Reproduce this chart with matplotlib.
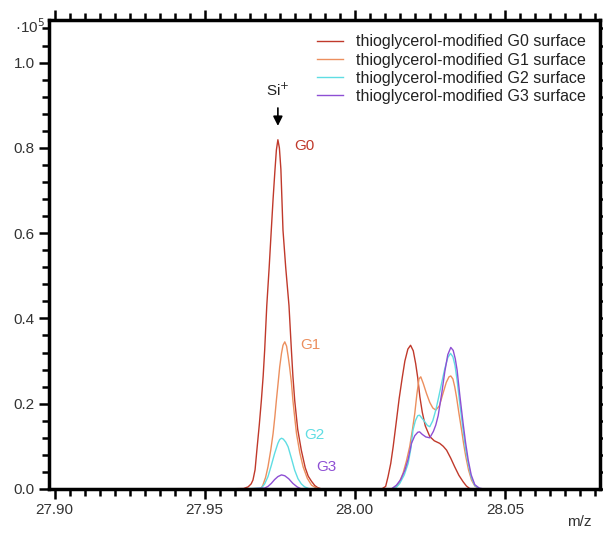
import matplotlib
matplotlib.use('Agg')
import matplotlib.pyplot as plt
from matplotlib.ticker import MultipleLocator

plt.rcParams['font.family'] = ['Liberation Sans', 'DejaVu Sans']

# m/z and intensity (x10^5)
mz_g0 = [27.9550, 27.9630, 27.9645, 27.9655, 27.9661, 27.9668, 27.9674, 27.9682, 27.9689, 27.9695,
         27.9700, 27.9707, 27.9715, 27.9722, 27.9728, 27.9734, 27.9739, 27.9744, 27.9749, 27.9754,
         27.9761, 27.9770, 27.9781, 27.9789, 27.9794, 27.9800, 27.9810, 27.9822, 27.9835, 27.9845,
         27.9856, 27.9867, 27.9877, 27.9890,
         28.0090, 28.0103, 28.0111, 28.0120, 28.0128, 28.0138, 28.0148, 28.0158, 28.0167, 28.0177,
         28.0186, 28.0195, 28.0203, 28.0210, 28.0217, 28.0225, 28.0235, 28.0250, 28.0265, 28.0283,
         28.0295, 28.0306, 28.0320, 28.0333, 28.0347, 28.0361, 28.0372, 28.0383, 28.0400, 28.0500]
int_g0 = [0.0, 0.001, 0.005, 0.012, 0.021, 0.045, 0.091, 0.150, 0.208, 0.265,
          0.326, 0.430, 0.520, 0.607, 0.680, 0.745, 0.795, 0.819, 0.800, 0.750,
          0.607, 0.520, 0.430, 0.326, 0.265, 0.208, 0.140, 0.091, 0.050, 0.030,
          0.018, 0.008, 0.003, 0.0,
          0.0, 0.006, 0.029, 0.060, 0.099, 0.155, 0.212, 0.260, 0.300, 0.328,
          0.337, 0.324, 0.294, 0.260, 0.216, 0.180, 0.148, 0.123, 0.113, 0.107,
          0.100, 0.091, 0.072, 0.052, 0.032, 0.017, 0.007, 0.001, 0.0, 0.0]

mz_g1 = [27.9600, 27.9683, 27.9690, 27.9694, 27.9703, 27.9711, 27.9720, 27.9728, 27.9734, 27.9739,
         27.9745, 27.9750, 27.9756, 27.9761, 27.9767, 27.9773, 27.9778, 27.9783, 27.9789, 27.9794,
         27.9800, 27.9806, 27.9817, 27.9828, 27.9842, 27.9856, 27.9870, 27.9883,
         28.0120, 28.0133, 28.0147, 28.0161, 28.0172, 28.0183, 28.0192, 28.0200, 28.0207, 28.0214,
         28.0220, 28.0228, 28.0239, 28.0250, 28.0260, 28.0270, 28.0282, 28.0294, 28.0305, 28.0314,
         28.0320, 28.0327, 28.0333, 28.0339, 28.0347, 28.0356, 28.0363, 28.0370, 28.0379, 28.0389,
         28.0400, 28.0415, 28.0600]
int_g1 = [0.0, 0.0, 0.004, 0.009, 0.027, 0.052, 0.090, 0.130, 0.170, 0.208,
          0.250, 0.286, 0.318, 0.337, 0.345, 0.335, 0.312, 0.286, 0.250, 0.208,
          0.168, 0.130, 0.085, 0.052, 0.025, 0.009, 0.003, 0.0,
          0.0, 0.002, 0.013, 0.037, 0.065, 0.099, 0.138, 0.177, 0.222, 0.258,
          0.263, 0.248, 0.224, 0.203, 0.190, 0.185, 0.195, 0.224, 0.250, 0.263,
          0.265, 0.258, 0.240, 0.216, 0.178, 0.138, 0.105, 0.076, 0.045, 0.021,
          0.007, 0.0, 0.0]

mz_g2 = [27.9620, 27.9689, 27.9700, 27.9711, 27.9722, 27.9733, 27.9744, 27.9750, 27.9756, 27.9762,
         27.9770, 27.9778, 27.9789, 27.9800, 27.9811, 27.9822, 27.9833, 27.9850,
         28.0128, 28.0140, 28.0150, 28.0165, 28.0178, 28.0187, 28.0194, 28.0202, 28.0210, 28.0216,
         28.0225, 28.0233, 28.0242, 28.0250, 28.0260, 28.0270, 28.0278, 28.0290, 28.0300, 28.0310,
         28.0319, 28.0327, 28.0334, 28.0341, 28.0350, 28.0361, 28.0369, 28.0378, 28.0388, 28.0400,
         28.0415, 28.0430, 28.0730]
int_g2 = [0.0, 0.002, 0.012, 0.029, 0.055, 0.083, 0.107, 0.116, 0.119, 0.117,
          0.110, 0.099, 0.072, 0.044, 0.024, 0.012, 0.005, 0.0,
          0.0, 0.005, 0.013, 0.033, 0.060, 0.095, 0.138, 0.160, 0.172, 0.173,
          0.165, 0.158, 0.149, 0.146, 0.160, 0.185, 0.210, 0.250, 0.282, 0.308,
          0.318, 0.310, 0.290, 0.255, 0.200, 0.138, 0.095, 0.060, 0.028, 0.008,
          0.001, 0.0, 0.0]

mz_g3 = [27.9640, 27.9700, 27.9711, 27.9722, 27.9733, 27.9744, 27.9756, 27.9767, 27.9780, 27.9794,
         27.9808, 27.9822,
         28.0122, 28.0139, 28.0153, 28.0167, 28.0178, 28.0189, 28.0200, 28.0210, 28.0216, 28.0225,
         28.0237, 28.0250, 28.0262, 28.0270, 28.0278, 28.0290, 28.0300, 28.0310, 28.0320, 28.0328,
         28.0335, 28.0341, 28.0350, 28.0361, 28.0369, 28.0378, 28.0388, 28.0400, 28.0415, 28.0430,
         28.0680]
int_g3 = [0.0, 0.002, 0.006, 0.013, 0.022, 0.029, 0.033, 0.031, 0.024, 0.013,
          0.005, 0.0,
          0.0, 0.009, 0.022, 0.044, 0.070, 0.107, 0.125, 0.133, 0.134, 0.128,
          0.122, 0.120, 0.135, 0.150, 0.172, 0.225, 0.275, 0.315, 0.332, 0.325,
          0.305, 0.279, 0.220, 0.154, 0.110, 0.068, 0.033, 0.010, 0.002, 0.0,
          0.0]

series = [
    (mz_g0, int_g0, '#c0392b', 'thioglycerol-modified G0 surface'),
    (mz_g1, int_g1, '#ec8f5e', 'thioglycerol-modified G1 surface'),
    (mz_g2, int_g2, '#5fdde3', 'thioglycerol-modified G2 surface'),
    (mz_g3, int_g3, '#8e4fd4', 'thioglycerol-modified G3 surface'),
]

fig = plt.figure(figsize=(6.03, 5.33), dpi=100)
ax = fig.add_axes([0.0805, 0.0826, 0.9145, 0.88])

for mz, inten, col, lab in series:
    ax.plot(mz, inten, color=col, lw=1.0, label=lab)

ax.set_xlim(27.898, 28.0817)
ax.set_ylim(0, 1.1)
ax.xaxis.set_major_locator(MultipleLocator(0.05))
ax.xaxis.set_minor_locator(MultipleLocator(0.005))
ax.yaxis.set_major_locator(MultipleLocator(0.2))
ax.yaxis.set_minor_locator(MultipleLocator(0.04))
ax.xaxis.set_major_formatter(plt.FormatStrFormatter('%.2f'))
ax.yaxis.set_major_formatter(plt.FormatStrFormatter('%.1f'))

for s in ax.spines.values():
    s.set_linewidth(2.5)
ax.tick_params(which='both', direction='out', top=True, right=True, width=1.8,
               labelsize=11, colors='black', labelcolor='#333333')
ax.tick_params(which='major', length=7, pad=3)
ax.tick_params(which='minor', length=5)

ax.text(-0.034, 1.07, '·10$^5$', transform=ax.get_yaxis_transform(), fontsize=11,
        color='#333333', ha='center', va='baseline')
ax.text(0.985, -0.055, 'm/z', transform=ax.transAxes, fontsize=11,
        color='#333333', ha='right', va='top')

ax.annotate('', xy=(27.9744, 0.845), xytext=(27.9744, 0.9),
            arrowprops=dict(arrowstyle='-|>', color='black', lw=1.2, mutation_scale=14))
ax.text(27.9744, 0.915, 'Si$^{+}$', fontsize=11, ha='center', va='bottom', color='#222222')

ax.text(27.9797, 0.805, 'G0', color='#c0392b', fontsize=11, va='center')
ax.text(27.9820, 0.337, 'G1', color='#ec8f5e', fontsize=11, va='center')
ax.text(27.9833, 0.126, 'G2', color='#5fdde3', fontsize=11, va='center')
ax.text(27.9873, 0.052, 'G3', color='#8e4fd4', fontsize=11, va='center')

ax.legend(loc='upper right', frameon=False, fontsize=11.5, handlelength=1.6,
          handletextpad=0.8, labelspacing=0.2, borderaxespad=0.5,
          labelcolor='#222222')

fig.savefig('out.png', dpi=100)
